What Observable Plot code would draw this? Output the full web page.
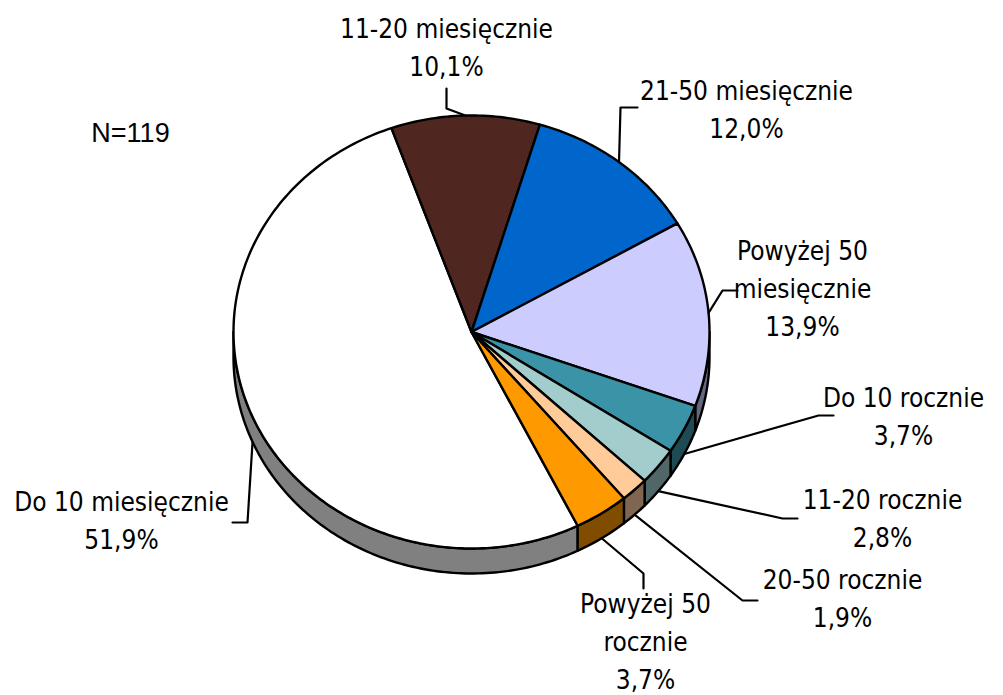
<!DOCTYPE html>
<html>
<head>
<meta charset="utf-8">
<script src="https://cdn.jsdelivr.net/npm/d3@7"></script>
<script src="https://cdn.jsdelivr.net/npm/@observablehq/plot@0.6"></script>
<style>
  html, body { margin: 0; padding: 0; background: #ffffff; }
  #chart svg { display: block; }
</style>
</head>
<body>
<div id="chart"></div>
<script>
// ---- data ----
const categories = ["Do 10 miesięcznie", "11-20 miesięcznie", "21-50 miesięcznie", "Powyżej 50 miesięcznie",
                    "Do 10 rocznie", "11-20 rocznie", "20-50 rocznie", "Powyżej 50 rocznie"];
const labelText = ["Do 10 miesięcznie", "11-20 miesięcznie", "21-50 miesięcznie", "Powyżej 50\nmiesięcznie",
                   "Do 10 rocznie", "11-20 rocznie", "20-50 rocznie", "Powyżej 50\nrocznie"];
const shares = [51.9, 10.1, 12.0, 13.9, 3.7, 2.8, 1.9, 3.7];
const sampleNote = "N=119";

// ---- styles ----
const topColors  = ["#ffffff", "#4f2720", "#0066cc", "#ccccff", "#3a93a7", "#a3cccc", "#ffcc99", "#ff9900"];
const sideColors = ["#808080", "#28140f", "#003366", "#666680", "#1d4a53", "#516666", "#806650", "#7f4c00"];

// ---- layout (pixel frame) ----
const cx = 471, cy = 331.5, rx = 238, ry = 216.5, depth = 25;
const startDeg = 153.5;
// label text centres and leader elbow / end points
const labelLayout = [
  {tx: 121, ty: 517, elbow: [247, 522], end: [232, 522]},
  {tx: 446, ty: 44,  elbow: [446, 108], end: [446, 88]},
  {tx: 746, ty: 106, elbow: [620, 107], end: [637, 107]},
  {tx: 802, ty: 285, elbow: [722, 290], end: [737, 290]},
  {tx: 903, ty: 413, elbow: [818, 415], end: [833, 415]},
  {tx: 882, ty: 515, elbow: [782, 518], end: [797, 518]},
  {tx: 842, ty: 595, elbow: [742, 600], end: [757, 600]},
  {tx: 645, ty: 638, elbow: [643, 573], end: [643, 588]}
];

const fmt = v => d3.format(".1f")(v).replace(".", ",") + "%";
const rad = d => d * Math.PI / 180;
const px = t => cx + rx * Math.sin(t);
const py = t => cy - ry * Math.cos(t);

const arcs = d3.pie().sort(null).value(d => d)
  .startAngle(rad(startDeg)).endAngle(rad(startDeg + 360))(shares);

function arcPts(a, b, off = 0) {
  const n = Math.max(2, Math.ceil(Math.abs(b - a) / rad(1)));
  const pts = [];
  for (let i = 0; i <= n; i++) {
    const t = a + (b - a) * i / n;
    pts.push({x: px(t), y: py(t) + off});
  }
  return pts;
}

const marks = [];
// visible side (front half: angles between 90° and 270°, mod 360)
arcs.forEach((a, i) => {
  for (const k of [0, 1]) {
    const lo = Math.max(a.startAngle, rad(90 + 360 * k));
    const hi = Math.min(a.endAngle, rad(270 + 360 * k));
    if (hi > lo) {
      const poly = arcPts(lo, hi).concat(arcPts(hi, lo, depth));
      marks.push(Plot.line(poly, {x: "x", y: "y", fill: sideColors[i], stroke: "black",
        strokeWidth: 2.4, strokeLinejoin: "round", curve: "linear-closed"}));
    }
  }
});
// top face slices
arcs.forEach((a, i) => {
  const poly = [{x: cx, y: cy}].concat(arcPts(a.startAngle, a.endAngle));
  marks.push(Plot.line(poly, {x: "x", y: "y", fill: topColors[i], stroke: "black",
    strokeWidth: 2.4, strokeLinejoin: "round", curve: "linear-closed"}));
});

// leaders
const leaders = [];
arcs.forEach((a, i) => {
  const mid = (a.startAngle + a.endAngle) / 2;
  const off = Math.cos(mid) < 0 ? depth : 0;
  const L = labelLayout[i];
  leaders.push({id: i, x: px(mid), y: py(mid) + off});
  leaders.push({id: i, x: L.elbow[0], y: L.elbow[1]});
  leaders.push({id: i, x: L.end[0], y: L.end[1]});
});
marks.push(Plot.line(leaders, {x: "x", y: "y", z: "id", stroke: "black", strokeWidth: 2.2}));

// labels
const labels = shares.map((v, i) => ({
  x: labelLayout[i].tx, y: labelLayout[i].ty, text: labelText[i] + "\n" + fmt(v)
}));
marks.push(Plot.text(labels, {x: "x", y: "y", text: "text", fontSize: 26, lineHeight: 1.46,
  fontFamily: "'DejaVu Sans Condensed', 'DejaVu Sans', sans-serif", fill: "black",
  letterSpacing: "0.5px"}));
marks.push(Plot.text([{x: 130, y: 133, text: sampleNote}], {x: "x", y: "y", text: "text",
  fontSize: 27, fontFamily: "'Liberation Sans', Arial, sans-serif", fill: "black"}));

const chart = Plot.plot({
  width: 1003, height: 695, margin: 0,
  x: {domain: [0, 1003], range: [0, 1003], axis: null},
  y: {domain: [0, 695], range: [0, 695], axis: null},
  style: {background: "#ffffff"},
  marks
});
document.getElementById("chart").appendChild(chart);
</script>
</body>
</html>
